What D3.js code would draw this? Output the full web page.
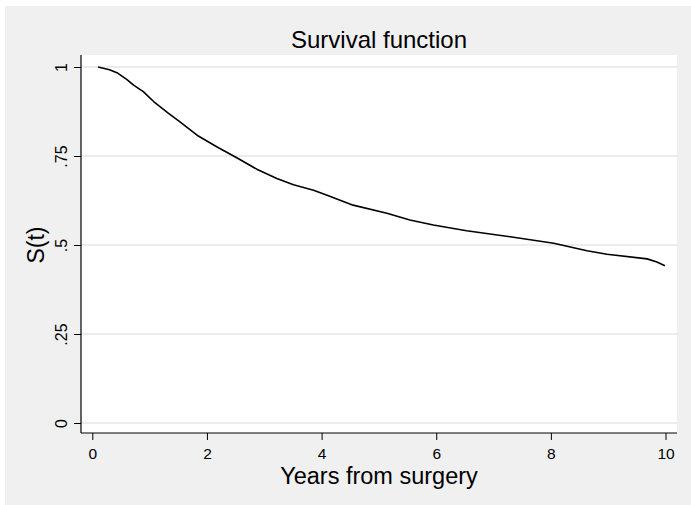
<!DOCTYPE html>
<html>
<head>
<meta charset="utf-8">
<script src="https://cdn.jsdelivr.net/npm/d3@7"></script>
<style>
  html, body { margin: 0; padding: 0; background: #ffffff; }
  svg { display: block; }
  text { font-family: "Liberation Sans", Arial, sans-serif; fill: #000; }
</style>
</head>
<body>
<svg id="chart" width="691" height="505"></svg>
<script>
// ---- data ----
const years = [0.1, 0.3, 0.43, 0.6, 0.72, 0.89, 1.07, 1.33, 1.53, 1.85, 2.17, 2.52, 2.87, 3.22, 3.51, 3.86, 4.12, 4.55, 5.14, 5.54, 5.95, 6.53, 7.29, 8.05, 8.63, 8.98, 9.68, 9.85, 9.99];
const survival = [1.000, 0.992, 0.984, 0.965, 0.949, 0.931, 0.903, 0.870, 0.846, 0.806, 0.776, 0.745, 0.713, 0.687, 0.669, 0.654, 0.638, 0.612, 0.589, 0.570, 0.556, 0.540, 0.523, 0.505, 0.484, 0.474, 0.461, 0.452, 0.442];
const xTicks = [0, 2, 4, 6, 8, 10];
const xTickLabels = ["0", "2", "4", "6", "8", "10"];
const yTicks = [0, 0.25, 0.5, 0.75, 1];
const yTickLabels = ["0", ".25", ".5", ".75", "1"];
const titleText = "Survival function";
const xTitle = "Years from surgery";
const yTitle = "S(t)";

const svg = d3.select("#chart");

// outer graph region
svg.append("rect").attr("x", 5).attr("y", 6).attr("width", 686).attr("height", 499).attr("fill", "#f0f0f0");

const plot = { left: 81, right: 677, top: 55, bottom: 433 };
svg.append("rect")
  .attr("x", plot.left).attr("y", plot.top)
  .attr("width", plot.right - plot.left).attr("height", plot.bottom - plot.top)
  .attr("fill", "#ffffff");

const x = d3.scaleLinear().domain([0, 10]).range([92.3, 665.5]);
const y = d3.scaleLinear().domain([0, 1]).range([423, 67]);

// gridlines
svg.append("g").selectAll("line").data(yTicks).join("line")
  .attr("x1", plot.left).attr("x2", plot.right)
  .attr("y1", d => y(d)).attr("y2", d => y(d))
  .attr("stroke", "#e6e6e6").attr("stroke-width", 1.5);

// y axis
const yAxis = d3.axisLeft(y).tickValues(yTicks).tickSize(7).tickSizeOuter(0)
  .tickFormat((d, i) => yTickLabels[i]);
const gy = svg.append("g").attr("transform", `translate(${plot.left},0)`).call(yAxis);
gy.select(".domain").remove();
gy.selectAll(".tick line").attr("stroke", "#000").attr("stroke-width", 1);
gy.selectAll(".tick text")
  .attr("font-size", 16).attr("font-family", "Liberation Sans, Arial, sans-serif")
  .attr("x", 0).attr("dy", 0)
  .attr("text-anchor", "middle")
  .attr("transform", "translate(-14,0) rotate(-90)");
svg.append("line").attr("x1", plot.left).attr("x2", plot.left)
  .attr("y1", plot.top).attr("y2", plot.bottom).attr("stroke", "#000").attr("stroke-width", 1.2);

// x axis
const xAxis = d3.axisBottom(x).tickValues(xTicks).tickSize(7).tickSizeOuter(0)
  .tickFormat((d, i) => xTickLabels[i]);
const gx = svg.append("g").attr("transform", `translate(0,${plot.bottom})`).call(xAxis);
gx.select(".domain").remove();
gx.selectAll(".tick line").attr("stroke", "#000").attr("stroke-width", 1);
gx.selectAll(".tick text")
  .attr("font-size", 15.5).attr("font-family", "Liberation Sans, Arial, sans-serif")
  .attr("y", 26).attr("dy", 0);
svg.append("line").attr("x1", plot.left).attr("x2", plot.right)
  .attr("y1", plot.bottom).attr("y2", plot.bottom).attr("stroke", "#000").attr("stroke-width", 1.2);

// survival curve
const pts = years.map((t, i) => [t, survival[i]]);
const line = d3.line().x(d => x(d[0])).y(d => y(d[1])).curve(d3.curveLinear);
svg.append("path").datum(pts).attr("d", line)
  .attr("fill", "none").attr("stroke", "#000").attr("stroke-width", 1.6)
  .attr("stroke-linejoin", "round");

// titles
const cx = (plot.left + plot.right) / 2;
svg.append("text").attr("x", cx).attr("y", 47.5).attr("text-anchor", "middle")
  .attr("font-size", 24).text(titleText);
svg.append("text").attr("x", cx).attr("y", 484).attr("text-anchor", "middle")
  .attr("font-size", 23.5).text(xTitle);
svg.append("text").attr("transform", `translate(44,${y(0.5)}) rotate(-90)`)
  .attr("text-anchor", "middle").attr("font-size", 23).text(yTitle);
</script>
</body>
</html>
